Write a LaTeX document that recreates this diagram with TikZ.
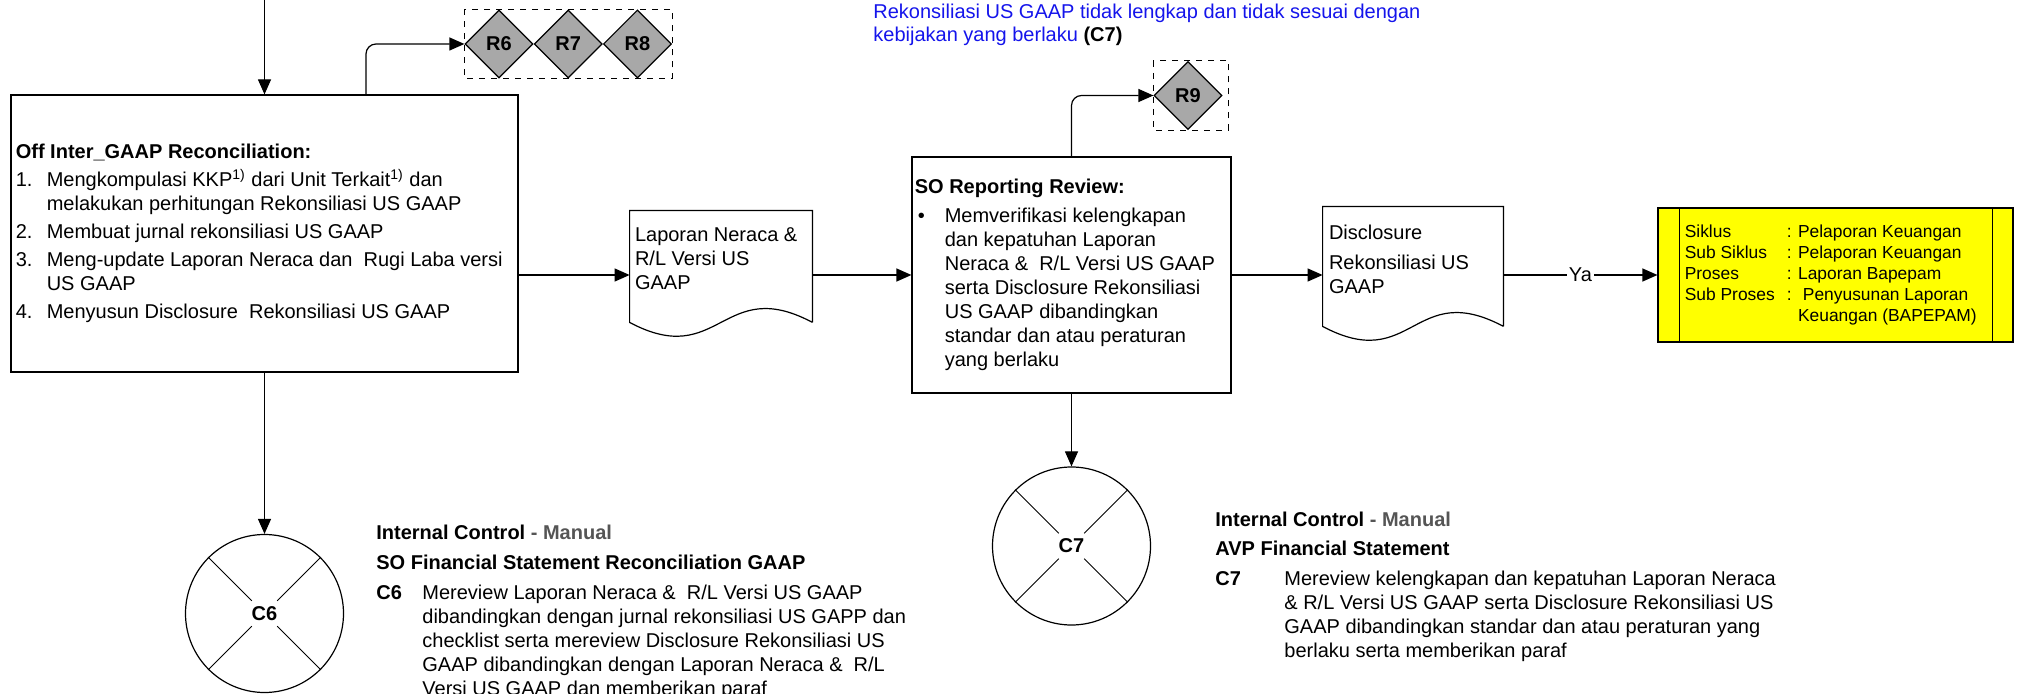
\documentclass[tikz,border=0pt]{standalone}
\usepackage{fontspec}
\setmainfont{Liberation Sans}
\usepackage{tikz}
\usepackage{xcolor}
\usetikzlibrary{arrows.meta,positioning,shapes.geometric}
\definecolor{riskgray}{RGB}{168,168,168}
\definecolor{notefill}{RGB}{255,255,0}
\definecolor{noteblue}{RGB}{20,20,235}
\definecolor{ctrlgray}{RGB}{85,85,85}
\newcommand{\docline}[1]{\draw[line width=0.6pt] ([yshift=8.5pt]#1.south east) -- (#1.north east) -- (#1.north west) -- ([yshift=8.5pt]#1.south west)
  .. controls +(45pt,-24pt) and +(-45pt,24pt) .. ([yshift=8.5pt]#1.south east);}

\begin{document}
\begin{tikzpicture}[x=0.5pt,y=-0.5pt,
        every node/.style={font=\fontsize{10}{12}\selectfont},
        box/.style={rectangle,draw,line width=0.6pt,inner sep=0pt},
        doc/.style={rectangle,draw=none,inner sep=0pt,minimum height=64pt},
        risk/.style={diamond,draw,fill=riskgray,line width=0.6pt,minimum width=34pt,minimum height=34pt,
          inner sep=0pt,font=\bfseries\fontsize{10}{12}\selectfont},
        ctrl/.style={circle,draw,line width=0.6pt,minimum size=79pt,inner sep=0pt,
          font=\bfseries\fontsize{10}{12}\selectfont},
        txt/.style={align=left,inner sep=0pt},
        frame/.style={dashed,line width=0.5pt},
        arrow/.style={-{Triangle[length=7.5pt,width=6.5pt]},line width=0.6pt}]
        \useasboundingbox (0,0) rectangle (2022,694);
        \coordinate (top) at (264.5,0);
        \node[box,minimum width=253.5pt,minimum height=138.5pt] (main) at (264.5,233.5) {};
        \node[txt,right=2.5pt of main.west] (maintxt) {\textbf{Off Inter\_GAAP Reconciliation:}\\[2pt]
          \makebox[15.5pt][l]{1.}Mengkompulasi KKP\textsuperscript{1)} dari Unit Terkait\textsuperscript{1)} dan\\
          \hspace*{15.5pt}melakukan perhitungan Rekonsiliasi US GAAP\\[2pt]
          \makebox[15.5pt][l]{2.}Membuat jurnal rekonsiliasi US GAAP\\[2pt]
          \makebox[15.5pt][l]{3.}Meng-update Laporan Neraca dan \ Rugi Laba versi\\
          \hspace*{15.5pt}US GAAP\\[2pt]
          \makebox[15.5pt][l]{4.}Menyusun Disclosure \ Rekonsiliasi US GAAP};
        \node[risk] (r6) at (499,44) {R6};
        \node[risk,right=0pt of r6] (r7) {R7};
        \node[risk,right=0pt of r7] (r8) {R8};
        \draw[frame] (r6.west |- r6.north) rectangle (r8.east |- r8.south);
        \node[txt,anchor=north west,text=noteblue] (note) at (873,4)
          {Rekonsiliasi US GAAP tidak lengkap dan tidak sesuai dengan\\[-0.5pt]
          kebijakan yang berlaku \textcolor{black}{\textbf{(C7)}}};
        \node[doc,minimum width=91pt] (lap) at (721,275) {};
        \docline{lap}
        \node[txt,below right=8.5pt and 2.5pt of lap.north west] (laptxt) {Laporan Neraca \&\\R/L Versi US\\GAAP};
        \node[box,minimum width=159.5pt,minimum height=118pt] (so) at (1071.5,275) {};
        \node[txt,right=1.5pt of so.west] (sotxt) {\textbf{SO Reporting Review:}\\[2.5pt]
          \makebox[15pt][l]{\hspace{1.5pt}\textbullet}Memverifikasi kelengkapan\\
          \hspace*{15pt}dan kepatuhan Laporan\\
          \hspace*{15pt}Neraca \& \ R/L Versi US GAAP\\
          \hspace*{15pt}serta Disclosure Rekonsiliasi\\
          \hspace*{15pt}US GAAP dibandingkan\\
          \hspace*{15pt}standar dan atau peraturan\\
          \hspace*{15pt}yang berlaku};
        \node[risk] (r9) at (1188,95.5) {R9};
        \draw[frame] (r9.west |- r9.north) rectangle ([xshift=3pt]r9.east |- r9.south);
        \node[doc,minimum width=90pt,minimum height=68pt] (disc) at (1413,275) {};
        \docline{disc}
        \node[txt,below right=9pt and 3pt of disc.north west] (disctxt) {Disclosure\\[3pt]Rekonsiliasi US\\GAAP};
        \node[box,fill=notefill,minimum width=177.5pt,minimum height=67pt] (info) at (1835.5,275) {};
        \draw[line width=0.6pt] ([xshift=11pt]info.north west) -- ([xshift=11pt]info.south west);
        \draw[line width=0.6pt] ([xshift=-10.5pt]info.north east) -- ([xshift=-10.5pt]info.south east);
        \node[txt,right=13.5pt of info.west,font=\fontsize{8.7}{10.5}\selectfont] (infotxt) {%
          \makebox[51pt][l]{Siklus}: Pelaporan Keuangan\\
          \makebox[51pt][l]{Sub Siklus}: Pelaporan Keuangan\\
          \makebox[51pt][l]{Proses}: Laporan Bapepam\\
          \makebox[51pt][l]{Sub Proses}: \ Penyusunan Laporan\\
          \makebox[51pt][l]{}\phantom{: }Keuangan (BAPEPAM)};
        \node[ctrl] (c6) at (264.5,613.5) {C6};
        \node[ctrl] (c7) at (1071.5,546) {C7};
        \foreach \c in {c6,c7}
          \foreach \a in {45,135,225,315}
            \draw[line width=0.5pt] ([shift={(\a:9pt)}]\c.center) -- (\c.\a);
        \node[txt,anchor=north west] (c6txt) at (376,525) {\textbf{Internal Control} \textbf{\textcolor{ctrlgray}{- Manual}}\\[3pt]
          \textbf{SO Financial Statement Reconciliation GAAP}\\[3pt]
          \makebox[23pt][l]{\textbf{C6}}Mereview Laporan Neraca \& \ R/L Versi US GAAP\\
          \hspace*{23pt}dibandingkan dengan jurnal rekonsiliasi US GAPP dan\\
          \hspace*{23pt}checklist serta mereview Disclosure Rekonsiliasi US\\
          \hspace*{23pt}GAAP dibandingkan dengan Laporan Neraca \& \ R/L\\
          \hspace*{23pt}Versi US GAAP dan memberikan paraf};
        \node[txt,anchor=north west] (c7txt) at (1215,512) {\textbf{Internal Control} \textbf{\textcolor{ctrlgray}{- Manual}}\\[2.5pt]
          \textbf{AVP Financial Statement}\\[3pt]
          \makebox[34.5pt][l]{\textbf{C7}}Mereview kelengkapan dan kepatuhan Laporan Neraca\\
          \hspace*{34.5pt}\& R/L Versi US GAAP serta Disclosure Rekonsiliasi US\\
          \hspace*{34.5pt}GAAP dibandingkan standar dan atau peraturan yang\\
          \hspace*{34.5pt}berlaku serta memberikan paraf};
        \draw[arrow] (top) -- (main);
        \draw[arrow,rounded corners=5pt] ([xshift=50.75pt]main.north) |- (r6.west);
        \draw[arrow] (main.east |- lap.west) -- (lap.west);
        \draw[arrow] (lap) -- (so);
        \draw[arrow,rounded corners=5pt] (so.north) |- (r9.west);
        \draw[arrow] (so) -- (disc);
        \draw[arrow] (disc) -- node[fill=white,inner sep=1pt] (ya) {Ya} (info);
        \draw[arrow] (main) -- (c6);
        \draw[arrow] (so) -- (c7);
      \end{tikzpicture}
\end{document}
